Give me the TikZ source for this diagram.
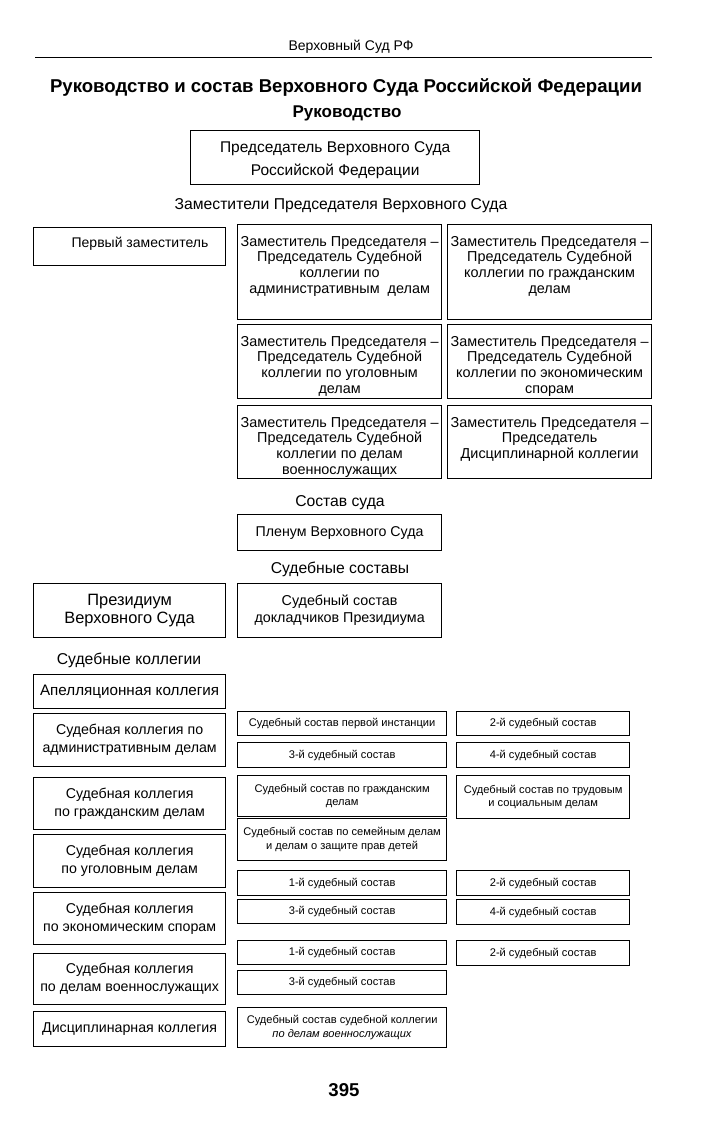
\documentclass[tikz,border=0pt]{standalone}
\usepackage{fontspec}
\setmainfont{Liberation Sans}
\begin{document}
\begin{tikzpicture}[x=1pt,y=-1pt,
  box/.style={draw, line width=1.25pt, inner sep=1pt, anchor=north west, align=center},
  txt/.style={font=\fontsize{14.2}{18}\selectfont},
  dep/.style={font=\fontsize{14.4}{15.7}\selectfont, align=center, inner sep=0pt, anchor=north},
  small/.style={font=\fontsize{11.1}{13.5}\selectfont},
  head/.style={font=\fontsize{15.7}{18}\selectfont, inner sep=0pt},
  ttl/.style={font=\bfseries\fontsize{18.6}{22}\selectfont, inner sep=0pt}]
\newcommand\Bx[6]{\node[box,minimum width=#4pt,minimum height=#5pt,#6] (#1) at (#2,#3)}
\useasboundingbox (0,0) rectangle (719,1124);

% header
\node[head, font=\fontsize{14}{16}\selectfont] (hdr) at (351,47) {Верховный Суд РФ};
\coordinate (rl) at (35,57);
\coordinate (rr) at (652,57);
\draw[line width=0.8pt] (rl) -- (rr);
\node[ttl] (title) at (346,88) {Руководство и состав Верховного Суда Российской Федерации};
\node[ttl, font=\bfseries\fontsize{17}{20}\selectfont] (rukov) at (347,113) {Руководство};

% chair
\Bx{chair}{190}{130}{289}{54}{}{};
\node[font=\fontsize{15.5}{23}\selectfont, align=center, inner sep=0pt] (chairt) at ([yshift=-3pt]chair.center) {Председатель Верховного Суда\\Российской Федерации};
\node[head] (zam) at (341,206) {Заместители Председателя Верховного Суда};

% deputies
\Bx{first}{33}{227}{192}{38}{}{};
\node[head, font=\fontsize{14}{16}\selectfont] (firstt) at (140,244) {Первый заместитель};
\Bx{d11}{237}{224}{204}{95}{}{};
\node[dep] (d11t) at ([yshift=-12pt]d11.north) {Заместитель Председателя –\\Председатель Судебной\\коллегии по\\административным\ \ делам};
\Bx{d12}{447}{224}{204}{95}{}{};
\node[dep] (d12t) at ([yshift=-12pt]d12.north) {Заместитель Председателя –\\Председатель Судебной\\коллегии по гражданским\\делам};
\Bx{d21}{237}{324}{204}{74}{}{};
\node[dep] (d21t) at ([yshift=-12pt]d21.north) {Заместитель Председателя –\\Председатель Судебной\\коллегии по уголовным\\делам};
\Bx{d22}{447}{324}{204}{74}{}{};
\node[dep] (d22t) at ([yshift=-12pt]d22.north) {Заместитель Председателя –\\Председатель Судебной\\коллегии по экономическим\\спорам};
\Bx{d31}{237}{405}{204}{73}{}{};
\node[dep] (d31t) at ([yshift=-12pt]d31.north) {Заместитель Председателя –\\Председатель Судебной\\коллегии по делам\\военнослужащих};
\Bx{d32}{447}{405}{204}{73}{}{};
\node[dep] (d32t) at ([yshift=-12pt]d32.north) {Заместитель Председателя –\\Председатель\\Дисциплинарной коллегии};

% composition
\node[head] (sostav) at (340,503) {Состав суда};
\Bx{plenum}{237}{514}{204}{36}{txt}{Пленум Верховного Суда};
\node[head] (sudsost) at (340,569) {Судебные составы};
\Bx{presid}{33}{583}{192}{54}{font=\fontsize{16.4}{18.5}\selectfont}{Президиум\\Верховного Суда};
\Bx{dokl}{237}{583}{204}{54}{font=\fontsize{14.3}{17}\selectfont}{Судебный состав\\докладчиков Президиума};
\node[head] (kolleg) at (129,660) {Судебные коллегии};

% collegia
\Bx{apel}{33}{674}{192}{34}{font=\fontsize{15.2}{18}\selectfont}{Апелляционная коллегия};
\Bx{adm}{33}{713}{192}{53}{txt}{Судебная коллегия по\\административным делам};
\Bx{civ}{33}{777}{192}{52}{txt}{Судебная коллегия\\по гражданским делам};
\Bx{crim}{33}{834}{192}{53}{txt}{Судебная коллегия\\по уголовным делам};
\Bx{econ}{33}{892}{192}{52}{txt}{Судебная коллегия\\по экономическим спорам};
\Bx{mil}{33}{953}{192}{51}{txt}{Судебная коллегия\\по делам военнослужащих};
\Bx{disc}{33}{1011}{192}{35}{txt}{Дисциплинарная коллегия};

% small compositions
\Bx{a1}{237}{711}{209}{24}{small}{Судебный состав первой инстанции};
\Bx{b1}{456}{711}{173}{24}{small}{2-й судебный состав};
\Bx{a2}{237}{742}{209}{25}{small}{3-й судебный состав};
\Bx{b2}{456}{742}{173}{25}{small}{4-й судебный состав};
\Bx{a3}{237}{775}{209}{41}{small}{Судебный состав по гражданским\\делам};
\Bx{b3}{456}{775}{173}{43}{small}{Судебный состав по трудовым\\и социальным делам};
\Bx{a4}{237}{818}{209}{42}{small}{Судебный состав по семейным делам\\и делам о защите прав детей};
\Bx{a5}{237}{870}{209}{25}{small}{1-й судебный состав};
\Bx{b5}{456}{870}{173}{25}{small}{2-й судебный состав};
\Bx{a6}{237}{899}{209}{24}{small}{3-й судебный состав};
\Bx{b6}{456}{899}{173}{25}{small}{4-й судебный состав};
\Bx{a7}{237}{940}{209}{24}{small}{1-й судебный состав};
\Bx{b7}{456}{940}{173}{25}{small}{2-й судебный состав};
\Bx{a8}{237}{970}{209}{24}{small}{3-й судебный состав};
\Bx{a9}{237}{1007}{209}{40}{small}{Судебный состав судебной коллегии\\\textit{по делам военнослужащих}};

\node[ttl] (page) at (344,1090) {395};
\end{tikzpicture}
\end{document}
